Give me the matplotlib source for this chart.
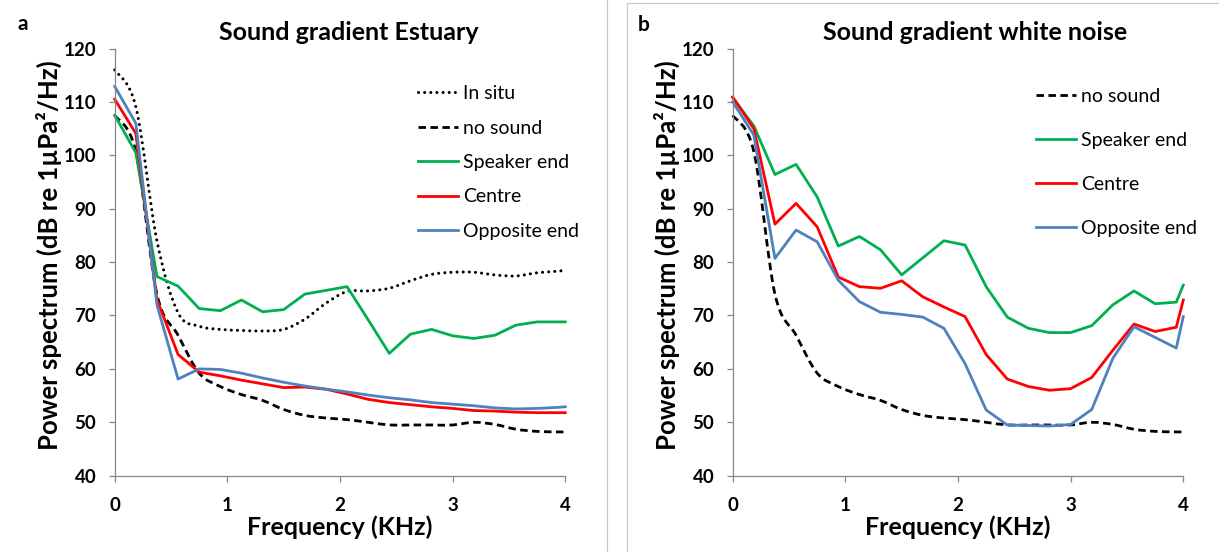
import numpy as np
import matplotlib
matplotlib.use("Agg")
import matplotlib.pyplot as plt
from matplotlib.path import Path
from matplotlib.patches import PathPatch
from matplotlib.lines import Line2D

plt.rcParams['font.family'] = ['Lato', 'DejaVu Sans']

# Frequency bins (KHz)
freq_khz = [0.0, 0.1875, 0.375, 0.5625, 0.75, 0.9375, 1.125, 1.3125, 1.5,
            1.6875, 1.875, 2.0625, 2.25, 2.4375, 2.625, 2.8125, 3.0, 3.1875,
            3.375, 3.5625, 3.75, 3.9375, 4.0]

# Power spectra (dB re 1 uPa^2/Hz)
in_situ = [116.0, 109.1, 84.0, 70.5, 68.0, 67.4, 67.2, 67.1, 67.4, 69.3, 72.3,
           74.5, 74.6, 75.1, 76.5, 77.7, 78.1, 78.1, 77.6, 77.4, 78.0, 78.3, 78.5]
no_sound = [107.5, 100.7, 74.0, 66.3, 59.2, 56.7, 55.2, 54.1, 52.4, 51.3, 50.8,
            50.5, 50.0, 49.5, 49.5, 49.5, 49.5, 50.0, 49.6, 48.7, 48.3, 48.2, 48.2]

est_speaker = [107.5, 100.5, 77.3, 75.5, 71.3, 70.9, 72.9, 70.7, 71.1, 74.0, 74.7,
               75.4, 69.2, 62.9, 66.5, 67.4, 66.2, 65.7, 66.3, 68.2, 68.8, 68.8, 68.8]
est_centre = [110.5, 104.1, 73.0, 62.7, 59.4, 58.7, 57.9, 57.2, 56.5, 56.6, 56.2,
              55.3, 54.3, 53.7, 53.3, 52.9, 52.6, 52.2, 52.1, 51.9, 51.8, 51.8, 51.8]
est_opposite = [112.9, 106.0, 72.0, 58.1, 60.0, 59.9, 59.2, 58.3, 57.5, 56.8, 56.2,
                55.7, 55.1, 54.6, 54.2, 53.7, 53.4, 53.1, 52.7, 52.5, 52.6, 52.8, 52.9]

wn_speaker = [110.8, 105.5, 96.4, 98.3, 92.2, 83.0, 84.8, 82.3, 77.6, 80.8, 84.0,
              83.2, 75.4, 69.7, 67.6, 66.8, 66.8, 68.1, 72.0, 74.6, 72.2, 72.5, 75.7]
wn_centre = [110.9, 105.0, 87.1, 91.0, 86.6, 77.2, 75.4, 75.1, 76.5, 73.5, 71.6,
             69.8, 62.7, 58.1, 56.7, 56.0, 56.3, 58.4, 63.5, 68.4, 67.0, 67.8, 72.9]
wn_opposite = [110.0, 103.8, 80.7, 86.0, 83.8, 76.6, 72.6, 70.6, 70.2, 69.7, 67.6,
               61.0, 52.3, 49.5, 49.4, 49.3, 49.6, 52.4, 62.0, 67.9, 65.9, 63.9, 69.8]

y_ticks = [40, 50, 60, 70, 80, 90, 100, 110, 120]
x_ticks = [0, 1, 2, 3, 4]

GREEN = '#00B050'
RED = '#FF0000'
BLUE = '#4F81BD'
AXIS_GREY = '#868686'
LW = 2.0

DOTTED = dict(color='black', lw=2.2, linestyle=(0, (0.01, 2.0)), capstyle='round')
DASHED = dict(color='black', lw=2.0, linestyle=(0, (2.7, 1.6)), capstyle='butt')


def smooth_path(x, y):
    """Catmull-Rom curve through the points, as cubic Bezier segments."""
    pts = np.column_stack([x, y]).astype(float)
    n = len(pts)
    verts = [pts[0]]
    codes = [Path.MOVETO]
    for i in range(n - 1):
        p0 = pts[max(i - 1, 0)]
        p1 = pts[i]
        p2 = pts[i + 1]
        p3 = pts[min(i + 2, n - 1)]
        verts += [p1 + (p2 - p0) / 6.0, p2 - (p3 - p1) / 6.0, p2]
        codes += [Path.CURVE4] * 3
    return Path(verts, codes)


def add_smooth(ax, x, y, style):
    patch = PathPatch(smooth_path(x, y), fill=False, edgecolor=style['color'],
                      lw=style['lw'], linestyle=style['linestyle'],
                      capstyle=style['capstyle'], clip_on=False)
    ax.add_patch(patch)
    return Line2D([], [], color=style['color'], lw=style['lw'],
                  linestyle=style['linestyle'], dash_capstyle=style['capstyle'])


def style_axes(ax):
    ax.set_xlim(0, 4)
    ax.set_ylim(40, 120)
    ax.set_xticks(x_ticks)
    ax.set_yticks(y_ticks)
    for side in ('top', 'right'):
        ax.spines[side].set_visible(False)
    for side in ('left', 'bottom'):
        ax.spines[side].set_color(AXIS_GREY)
        ax.spines[side].set_linewidth(0.9)
    ax.tick_params(direction='out', length=4.3, width=0.9, color=AXIS_GREY,
                   labelsize=13.5)
    ax.tick_params(axis='x', pad=11)
    ax.tick_params(axis='y', pad=9)
    for lab in ax.get_xticklabels() + ax.get_yticklabels():
        lab.set_fontweight('bold')
    ax.set_xlabel('Frequency (KHz)', fontsize=18, fontweight='bold')
    ax.set_ylabel('Power spectrum (dB re 1µPa²/Hz)', fontsize=18.5, fontweight='bold')
    ax.xaxis.set_label_coords(0.5, -0.093)
    ax.yaxis.set_label_coords(-0.117, 0.517)


W, H = 1219, 552
fig = plt.figure(figsize=(W / 100, H / 100), dpi=100)
fig.patch.set_facecolor('white')

ax_a = fig.add_axes([114.7 / W, 76.3 / H, 450.6 / W, 427.2 / H])
ax_b = fig.add_axes([732.7 / W, 76.3 / H, 450.6 / W, 427.2 / H])

# Panel a: estuary recording
h_situ = add_smooth(ax_a, freq_khz, in_situ, DOTTED)
h_none = add_smooth(ax_a, freq_khz, no_sound, DASHED)
h_spk, = ax_a.plot(freq_khz, est_speaker, color=GREEN, lw=LW, clip_on=False)
h_cen, = ax_a.plot(freq_khz, est_centre, color=RED, lw=LW, clip_on=False)
h_opp, = ax_a.plot(freq_khz, est_opposite, color=BLUE, lw=LW, clip_on=False)
style_axes(ax_a)
ax_a.legend([h_situ, h_none, h_spk, h_cen, h_opp],
            ['In situ', 'no sound', 'Speaker end', 'Centre', 'Opposite end'],
            loc='upper left', bbox_to_anchor=(418 / W, 1 - 85 / H),
            bbox_transform=fig.transFigure, frameon=False, fontsize=14,
            handlelength=2.06, handletextpad=0.26, labelspacing=0.9,
            borderpad=0, borderaxespad=0)

# Panel b: white noise playback
h_none_b = add_smooth(ax_b, freq_khz, no_sound, DASHED)
h_spk_b, = ax_b.plot(freq_khz, wn_speaker, color=GREEN, lw=LW, clip_on=False)
h_cen_b, = ax_b.plot(freq_khz, wn_centre, color=RED, lw=LW, clip_on=False)
h_opp_b, = ax_b.plot(freq_khz, wn_opposite, color=BLUE, lw=LW, clip_on=False)
style_axes(ax_b)
ax_b.legend([h_none_b, h_spk_b, h_cen_b, h_opp_b],
            ['no sound', 'Speaker end', 'Centre', 'Opposite end'],
            loc='upper left', bbox_to_anchor=(1036 / W, 1 - 88 / H),
            bbox_transform=fig.transFigure, frameon=False, fontsize=14,
            handlelength=2.06, handletextpad=0.26, labelspacing=1.39,
            borderpad=0, borderaxespad=0)

# Titles and panel letters
fig.text(348.5 / W, 1 - 32 / H, 'Sound gradient Estuary', ha='center', va='center',
         fontsize=18, fontweight='bold')
fig.text(975.5 / W, 1 - 33 / H, 'Sound gradient white noise', ha='center', va='center',
         fontsize=18, fontweight='bold')
fig.text(23 / W, 1 - 24 / H, 'a', ha='center', va='center', fontsize=15, fontweight='bold')
fig.text(644 / W, 1 - 25 / H, 'b', ha='center', va='center', fontsize=15, fontweight='bold')

# Chart-area borders between the two panels
BORDER = '#C8C8C8'
fig.add_artist(Line2D([607 / W, 607 / W], [0, 1], transform=fig.transFigure,
                      color=BORDER, lw=0.9))
fig.add_artist(Line2D([627 / W, 627 / W, 1], [0, 1 - 3 / H, 1 - 3 / H],
                      transform=fig.transFigure, color=BORDER, lw=0.9))

fig.savefig('out.png', dpi=100, facecolor='white')
